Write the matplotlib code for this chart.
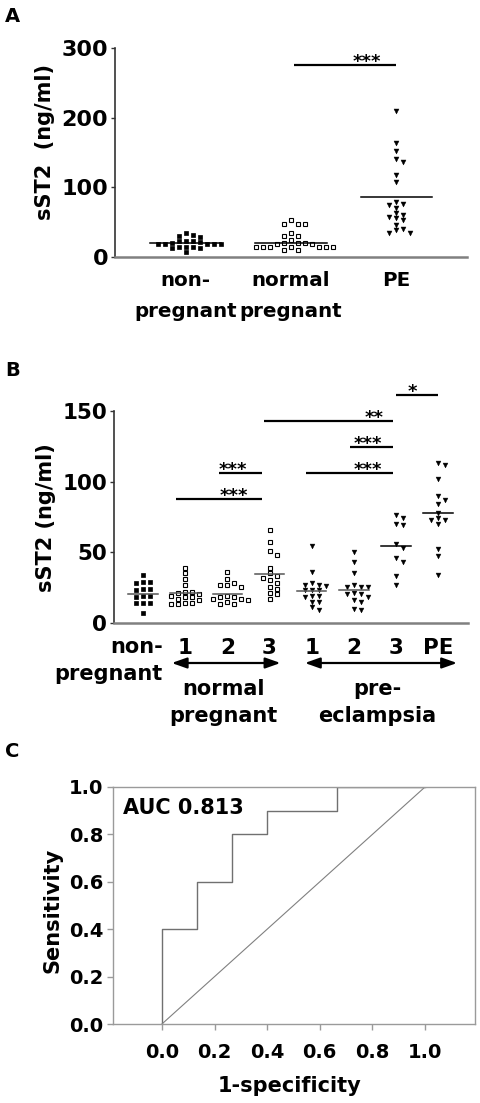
import numpy as np
import matplotlib
matplotlib.use('Agg')
import matplotlib.pyplot as plt

plt.rcParams['font.family'] = ['DejaVu Sans']
plt.rcParams['font.weight'] = 'bold'

# ---------------- data ----------------
# Panel A
catsA = ['non-\npregnant', 'normal\npregnant', 'PE']
nonpreg_A = [23, 20, 19, 14, 32, 23, 18, 13, 29, 18, 7, 30, 18, 13, 34, 19, 14, 22, 15, 23]
normal_A = [53, 47, 47, 48, 35, 30, 30, 24, 20, 20, 20, 18, 18, 14, 14, 14, 14, 14, 15, 15, 10, 10]
pe_A = [210, 164, 152, 140, 136, 117, 107, 79, 76, 75, 70, 63, 60, 58, 56, 53, 46, 40, 39, 35, 35]
linesA = [20, 20, 86]
yticksA = [0, 100, 200, 300]
sigA = [(1.03, 2.0, 275, '***', 1.72)]

# Panel B
ticksB = ['1', '2', '3', '1', '2', '3', 'PE']
nonpreg_B = [34, 29, 29, 28, 24, 24, 23, 19, 19, 18, 14, 14, 14, 7]
np1_B = [39, 35, 31, 27, 22, 22, 21, 20, 19, 18, 18, 17, 16, 14, 14, 13, 13]
np2_B = [36, 31, 28, 27, 27, 25, 19, 18, 18, 17, 17, 16, 15, 13, 13]
np3_B = [66, 57, 51, 48, 39, 35, 33, 32, 30, 28, 25, 24, 21, 20, 17]
pre1_B = [54, 36, 28, 27, 27, 26, 23, 23, 23, 19, 19, 18, 15, 15, 11, 9]
pre2_B = [50, 43, 35, 27, 25, 25, 25, 21, 20, 20, 18, 16, 15, 10, 9]
pre3_B = [76, 74, 70, 69, 56, 53, 46, 43, 33, 27]
pe_B = [113, 112, 102, 90, 87, 84, 78, 74, 73, 73, 70, 52, 47, 34]
linesB = [20.5, 21, 20.3, 34.5, 22.7, 23.2, 54.3, 77.5]
yticksB = [0, 50, 100, 150]
# (x start, x end, y, label, label x)
sigB = [(0.79, 2.82, 87.6, '***', 2.15),
        (1.79, 2.82, 106, '***', 2.13),
        (3.87, 5.93, 106, '***', 5.34),
        (4.90, 5.93, 124.5, '***', 5.34),
        (2.86, 5.93, 142.7, '**', 5.48),
        (6.01, 7.01, 161.6, '*', 6.39)]
nonpreg_lines_B = ['non-', 'pregnant']
group_lines_B = [(1.9, ['normal', 'pregnant']), (5.56, ['pre-', 'eclampsia'])]

# Panel C (ROC)
roc_fpr = [0.0, 0.0, 0.133, 0.133, 0.267, 0.267, 0.4, 0.4, 0.667, 0.667, 1.0]
roc_tpr = [0.0, 0.4, 0.4, 0.6, 0.6, 0.8, 0.8, 0.9, 0.9, 1.0, 1.0]
ticksC = [0.0, 0.2, 0.4, 0.6, 0.8, 1.0]
auc_text = 'AUC 0.813'

# ---------------- figure ----------------
W, H, DPI = 481, 1103, 100
fig = plt.figure(figsize=(W / DPI, H / DPI), dpi=DPI)


def ax_px(left, top, right, bottom):
    return fig.add_axes([left / W, 1 - bottom / H, (right - left) / W, (bottom - top) / H])


def swarm(ax, x0, vals, step=7.0, dy=4.6):
    T = ax.transData
    inv = T.inverted()
    placed = []
    xs = np.empty(len(vals))
    cands = [0]
    for j in range(1, 30):
        cands += [j, -j]
    for i in np.argsort(vals)[::-1]:
        px, py = T.transform((x0, vals[i]))
        for c in cands:
            cx = px + c * step
            if all(not (abs(cx - qx) < step * 0.99 and abs(py - qy) < dy) for qx, qy in placed):
                break
        placed.append((cx, py))
        xs[i] = inv.transform((cx, py))[0]
    return xs


def style_dot_axes(ax):
    for s in ['top', 'right']:
        ax.spines[s].set_visible(False)
    ax.spines['left'].set_color('#333333')
    ax.spines['bottom'].set_color('#808080')
    ax.spines['left'].set_linewidth(1.2)
    ax.spines['bottom'].set_linewidth(1.8)
    ax.tick_params(axis='y', length=3, width=1, color='#333333', pad=2)


def draw_group(ax, x0, vals, kind, line, line_color, half=0.34, ms=3.3):
    xs = swarm(ax, x0, vals)
    if kind == 'filled_sq':
        ax.plot(xs, vals, ls='none', marker='s', ms=ms, mfc='black', mec='black', mew=0.5, clip_on=False)
    elif kind == 'open_sq':
        ax.plot(xs, vals, ls='none', marker='s', ms=ms - 0.4, mfc='white', mec='black', mew=0.8, clip_on=False)
    else:
        ax.plot(xs, vals, ls='none', marker='v', ms=ms + 0.3, mfc='black', mec='black', mew=0.3, clip_on=False)
    ax.plot([x0 - half, x0 + half], [line, line], color=line_color, lw=1.1, zorder=3)


def star_label(ax, lab, x, y):
    ax.annotate(lab, xy=(x, y), xytext=(0, -1.5), textcoords='offset points',
                ha='center', va='baseline', fontsize=13, fontweight='bold', annotation_clip=False)


# ---------------- Panel A ----------------
axA = ax_px(115, 48, 467, 257)
axA.set_xlim(-0.67, 2.67)
axA.set_ylim(0, 300)
style_dot_axes(axA)
axA.set_yticks(yticksA)
axA.set_yticklabels([str(t) for t in yticksA], fontsize=16, fontweight='bold')
axA.set_xticks(range(len(catsA)))
axA.set_xticklabels(catsA, fontsize=14.3, fontweight='bold', linespacing=1.8)
axA.tick_params(axis='x', length=0, pad=10)
kindsA = ['filled_sq', 'open_sq', 'tri']
for i, vals in enumerate([nonpreg_A, normal_A, pe_A]):
    draw_group(axA, i, vals, kindsA[i], linesA[i], 'black', half=0.34, ms=3.3)
for x1, x2, y, lab, lx in sigA:
    axA.plot([x1, x2], [y, y], color='black', lw=1.6, clip_on=False, solid_capstyle='butt')
    star_label(axA, lab, lx, y)
fig.text(45 / W, 1 - 142 / H, 'sST2  (ng/ml)', rotation=90, ha='center', va='center',
         fontsize=15, fontweight='bold')
fig.text(5 / W, 1 - 22 / H, 'A', ha='left', va='baseline', fontsize=14, fontweight='bold')

# ---------------- Panel B ----------------
axB = ax_px(114, 411, 468, 622.7)
axB.set_xlim(-0.69, 7.71)
axB.set_ylim(0, 150)
style_dot_axes(axB)
axB.set_yticks(yticksB)
axB.set_yticklabels([str(t) for t in yticksB], fontsize=15.5, fontweight='bold')
axB.set_xticks(range(1, 8))
axB.set_xticklabels(ticksB, fontsize=15.5, fontweight='bold')
axB.tick_params(axis='x', length=0, pad=11)
groupsB = [nonpreg_B, np1_B, np2_B, np3_B, pre1_B, pre2_B, pre3_B, pe_B]
kindsB = ['filled_sq', 'open_sq', 'open_sq', 'open_sq', 'tri', 'tri', 'tri', 'tri']
lcolB = ['#555555'] * 6 + ['black', 'black']
for i, vals in enumerate(groupsB):
    draw_group(axB, i, vals, kindsB[i], linesB[i], lcolB[i], half=0.35, ms=3.2)
for x1, x2, y, lab, lx in sigB:
    axB.plot([x1, x2], [y, y], color='black', lw=1.6, clip_on=False, solid_capstyle='butt')
    star_label(axB, lab, lx, y)
# non-pregnant label (right aligned)
for k, line in enumerate(nonpreg_lines_B):
    axB.annotate(line, xy=(0.47, H - 653 - 27 * k), xycoords=('data', 'figure pixels'),
                 ha='right', va='baseline', fontsize=15, fontweight='bold', annotation_clip=False)
# group arrows
for xa, xb in [(0.68, 3.26), (3.84, 7.45)]:
    axB.annotate('', xy=(xb, H - 663), xytext=(xa, H - 663),
                 xycoords=('data', 'figure pixels'), textcoords=('data', 'figure pixels'),
                 arrowprops=dict(arrowstyle='<|-|>,head_length=0.9,head_width=0.32',
                                 color='black', lw=1.6, shrinkA=0, shrinkB=0, mutation_scale=10),
                 annotation_clip=False)
for xc, lines in group_lines_B:
    for k, line in enumerate(lines):
        axB.annotate(line, xy=(xc, H - 695 - 27 * k), xycoords=('data', 'figure pixels'),
                     ha='center', va='baseline', fontsize=15, fontweight='bold',
                     annotation_clip=False)
fig.text(46 / W, 1 - 517.5 / H, 'sST2 (ng/ml)', rotation=90, ha='center', va='center',
         fontsize=15, fontweight='bold')
fig.text(5 / W, 1 - 376 / H, 'B', ha='left', va='baseline', fontsize=14, fontweight='bold')

# ---------------- Panel C ----------------
axC = ax_px(113, 787, 475, 1024)
axC.set_xlim(-0.186, 1.19)
axC.set_ylim(0, 1.0)
for s in axC.spines.values():
    s.set_color('#9a9a9a')
    s.set_linewidth(1.0)
axC.plot(roc_fpr, roc_tpr, color='#707070', lw=1.0)
axC.plot([0, 1], [0, 1], color='#808080', lw=0.8)
axC.set_xticks(ticksC)
axC.set_yticks(ticksC)
axC.set_xticklabels(['%.1f' % t for t in ticksC], fontsize=14, fontweight='bold')
axC.set_yticklabels(['%.1f' % t for t in ticksC], fontsize=14, fontweight='bold')
axC.tick_params(axis='x', length=4, width=1, color='#9a9a9a', pad=10)
axC.tick_params(axis='y', length=4, width=1, color='#9a9a9a', pad=3)
axC.text(0.028, 0.886, auc_text, transform=axC.transAxes, ha='left', va='baseline',
         fontsize=15, fontweight='bold')
fig.text(290 / W, 1 - 1092 / H, '1-specificity', ha='center', va='baseline',
         fontsize=15, fontweight='bold')
fig.text(52 / W, 1 - 910 / H, 'Sensitivity', rotation=90, ha='center', va='center',
         fontsize=15, fontweight='bold')
fig.text(5 / W, 1 - 757 / H, 'C', ha='left', va='baseline', fontsize=14, fontweight='bold')

fig.savefig('out.png', dpi=DPI)
